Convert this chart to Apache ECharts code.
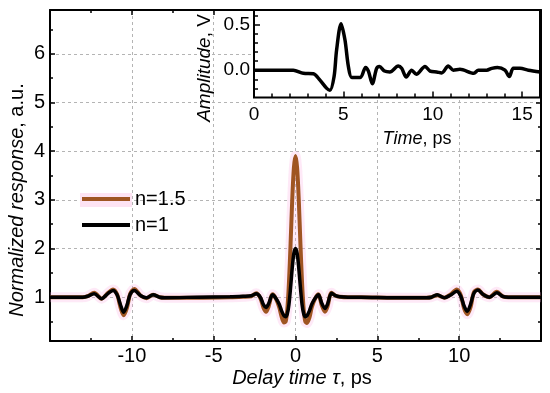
<!DOCTYPE html>
<html><head><meta charset="utf-8">
<script src="https://cdn.jsdelivr.net/npm/echarts@6/dist/echarts.min.js"></script>
<style>html,body{margin:0;padding:0;background:#fff}#c{width:550px;height:393px}</style>
</head><body><div id="c"></div><script>
// ---- data ----
const delay = [-15,-13.0,-12.7,-12.3,-11.85,-11.45,-11.15,-10.9,-10.7,-10.5,-10.3,-10.1,-9.85,-9.45,-9.1,-8.7,-8.3,-8.0,-6,-4,-3.2,-2.7,-2.4,-2.15,-1.95,-1.8,-1.65,-1.4,-1.2,-1.0,-0.85,-0.7,-0.6,-0.5,-0.4,-0.3,-0.2,-0.1,0,0.1,0.2,0.3,0.4,0.5,0.6,0.7,0.85,1.0,1.2,1.4,1.6,1.8,1.95,2.2,2.45,2.7,3.2,4,6,8.0,8.3,8.65,9.1,9.45,9.85,10.1,10.3,10.5,10.7,10.9,11.15,11.45,11.85,12.3,12.7,13.0,15];
const n15 = [1.0,1.0,1.02,1.09,0.97,1.09,1.16,1.06,0.8,0.63,0.78,1.07,1.17,1.03,0.98,1.05,1.0,0.99,0.99,1.0,1.01,1.02,1.08,0.98,0.78,0.7,0.8,1.06,0.97,0.8,0.6,0.48,0.5,0.75,1.3,2.1,3.0,3.65,3.9,3.65,3.0,2.1,1.3,0.75,0.5,0.47,0.58,0.8,0.97,1.06,0.84,0.7,0.8,1.09,1.03,1.01,1.0,1.0,0.99,0.99,1.0,1.04,0.99,1.05,1.16,1.04,0.77,0.65,0.8,1.1,1.16,1.06,1.0,1.11,1.01,1.0,1.0];
const n1 = [1.0,1.0,1.02,1.07,0.97,1.08,1.14,1.05,0.85,0.69,0.83,1.06,1.14,1.03,0.99,1.05,1.0,0.99,1.0,1.01,1.02,1.03,1.07,1.0,0.84,0.79,0.86,1.05,0.98,0.86,0.72,0.62,0.6,0.66,0.85,1.2,1.6,1.9,2.0,1.9,1.6,1.2,0.85,0.66,0.6,0.62,0.72,0.86,0.98,1.05,0.88,0.77,0.85,1.08,1.03,1.01,1.0,1.0,0.99,0.99,1.0,1.05,0.99,1.04,1.12,1.02,0.82,0.71,0.86,1.08,1.15,1.06,1.0,1.09,1.01,1.0,1.0];
const timePs = [0,1,2.2,2.76,3.32,3.69,4.07,4.25,4.48,4.62,4.87,5.09,5.28,5.47,5.95,6.24,6.4,6.62,6.86,7.02,7.3,7.6,8.07,8.26,8.52,8.82,9.08,9.57,9.85,10.22,10.5,10.87,11.15,11.52,12.3,12.55,13.02,13.3,13.62,14.04,14.28,14.51,14.88,15.35,16];
const amplitude = [0,0,0,-0.035,-0.04,-0.11,-0.2,-0.22,-0.07,0.22,0.51,0.33,0.04,-0.08,-0.08,0.03,-0.01,-0.15,0.02,0.04,-0.01,-0.02,0.045,0.02,-0.075,0.0,-0.045,0.04,-0.01,-0.02,-0.03,0.045,0.0,0.01,-0.035,0.0,0.0,0.02,0.03,0.0,-0.07,0.02,0.02,0.0,-0.02];
const mainYMinorTicks = [0.5,1.5,2.5,3.5,4.5,5.5,6.5];
const insetXMajor = [0,5,10,15];
const insetXMinor = [1,2,3,4,6,7,8,9,11,12,13,14];
const insetYMajor = [0,0.5];
const insetYMinor = [-0.2,-0.1,0.1,0.2,0.3,0.4,0.6];

const FONT = '"Liberation Sans", Arial, Helvetica, sans-serif';
const zip = (a, b) => a.map((v, i) => [v, b[i]]);
const black = '#000';
const grid = {type: [3, 3], color: '#b4b4b4', width: 1};
const noLine = {show: false, onZero: false};
const mainLine = {show: true, onZero: false, lineStyle: {color: black, width: 2}};

const chart = echarts.init(document.getElementById('c'), null, {renderer: 'canvas'});
chart.setOption({
  animation: false,
  backgroundColor: '#fff',
  textStyle: {fontFamily: FONT},
  grid: [
    {left: 50, top: 10, right: 9, bottom: 52},
    {left: 254, top: 10, right: 10, bottom: 295.5, show: true, backgroundColor: '#fff', borderColor: '#000', borderWidth: 2, z: 3}
  ],
  legend: {
    data: ['n=1.5', 'n=1'], orient: 'vertical', left: 82, top: 189, padding: 0, itemWidth: 48, itemHeight: 4, itemGap: 6,
    icon: 'rect', textStyle: {fontSize: 20, color: black, fontFamily: FONT}, z: 6
  },
  xAxis: [
    {gridIndex: 0, type: 'value', position: 'bottom', min: -15, max: 15, interval: 5,
     axisLine: mainLine,
     axisTick: {inside: true, length: 5, lineStyle: {color: black, width: 1.5}},
     minorTick: {show: true, splitNumber: 2, length: 3, lineStyle: {color: black, width: 1.5}},
     axisLabel: {fontSize: 20, color: black, margin: 5, showMinLabel: false, showMaxLabel: false, fontFamily: FONT},
     splitLine: {show: true, lineStyle: grid}},
    {gridIndex: 0, type: 'value', position: 'top', min: -15, max: 15, interval: 5,
     axisLine: mainLine,
     axisTick: {inside: true, length: 5, lineStyle: {color: black, width: 1.5}},
     minorTick: {show: true, splitNumber: 2, length: 3, lineStyle: {color: black, width: 1.5}},
     axisLabel: {show: false}, splitLine: {show: false}},
    {gridIndex: 1, type: 'value', position: 'bottom', min: 0, max: 16, z: 4,
     axisLine: noLine,
     axisTick: {inside: true, length: 6, customValues: insetXMajor, lineStyle: {color: black, width: 1.5}},
     axisLabel: {customValues: insetXMajor, fontSize: 19, color: black, margin: 8, fontFamily: FONT},
     splitLine: {show: false}},
    {gridIndex: 1, type: 'value', position: 'bottom', min: 0, max: 16, z: 4,
     axisLine: noLine,
     axisTick: {inside: true, length: 4, customValues: insetXMinor, lineStyle: {color: black, width: 1.5}},
     axisLabel: {show: false}, splitLine: {show: false}}
  ],
  yAxis: [
    {gridIndex: 0, type: 'value', position: 'left', min: 0.1, max: 6.9, splitNumber: 6,
     axisLine: mainLine,
     axisTick: {show: true, inside: true, length: 5, lineStyle: {color: black, width: 1.5}},
     axisLabel: {fontSize: 20, color: black, margin: 5, showMinLabel: false, showMaxLabel: false, fontFamily: FONT},
     splitLine: {show: true, lineStyle: grid}},
    {gridIndex: 0, type: 'value', position: 'left', min: 0.1, max: 6.9,
     axisLine: noLine,
     axisTick: {show: true, inside: true, length: 3, customValues: mainYMinorTicks, lineStyle: {color: black, width: 1.5}},
     axisLabel: {show: false}, splitLine: {show: false}},
    {gridIndex: 0, type: 'value', position: 'right', min: 0.1, max: 6.9, splitNumber: 6,
     axisLine: mainLine,
     axisTick: {show: true, inside: true, length: 5, lineStyle: {color: black, width: 1.5}},
     axisLabel: {show: false}, splitLine: {show: false}},
    {gridIndex: 0, type: 'value', position: 'right', min: 0.1, max: 6.9,
     axisLine: noLine,
     axisTick: {show: true, inside: true, length: 3, customValues: mainYMinorTicks, lineStyle: {color: black, width: 1.5}},
     axisLabel: {show: false}, splitLine: {show: false}},
    {gridIndex: 1, type: 'value', position: 'left', min: -0.3, max: 0.66, z: 4,
     axisLine: noLine,
     axisTick: {show: true, inside: true, length: 6, customValues: insetYMajor, lineStyle: {color: black, width: 1.5}},
     axisLabel: {customValues: insetYMajor, fontSize: 19, color: black, margin: 4, fontFamily: FONT, formatter: v => Number(v).toFixed(1)},
     splitLine: {show: false}},
    {gridIndex: 1, type: 'value', position: 'left', min: -0.3, max: 0.66, z: 4,
     axisLine: noLine,
     axisTick: {show: true, inside: true, length: 4, customValues: insetYMinor, lineStyle: {color: black, width: 1.5}},
     axisLabel: {show: false}, splitLine: {show: false}}
  ],
  series: [
    {name: 'halo', type: 'line', xAxisIndex: 0, yAxisIndex: 0, data: zip(delay, n15), showSymbol: false, smooth: 0.3, silent: true,
     lineStyle: {color: 'rgba(250,175,228,0.28)', width: 10}, z: 1},
    {name: 'n=1.5', type: 'line', xAxisIndex: 0, yAxisIndex: 0, data: zip(delay, n15), showSymbol: false, smooth: 0.3,
     color: '#9f5522', lineStyle: {color: '#9f5522', width: 4}, z: 2},
    {name: 'n=1', type: 'line', xAxisIndex: 0, yAxisIndex: 0, data: zip(delay, n1), showSymbol: false, smooth: 0.3,
     color: '#000', lineStyle: {color: '#000', width: 3.5}, z: 2},
    {name: 'inset', type: 'line', xAxisIndex: 2, yAxisIndex: 4, data: zip(timePs, amplitude), showSymbol: false, smooth: 0.3,
     color: '#000', lineStyle: {color: '#000', width: 3.5}, z: 5}
  ],
  graphic: [
    {type: 'rect', left: 80, top: 193, shape: {width: 52, height: 14}, style: {fill: '#fde3f3'}, z: 1},
    {type: 'text', x: 302, y: 378, z: 6,
     style: {text: '{i|Delay time τ}, ps', font: '20px ' + FONT, fill: black, align: 'center', verticalAlign: 'middle', textAlign: 'center', textVerticalAlign: 'middle',
       rich: {i: {fontStyle: 'italic', fontSize: 20, fontFamily: FONT, fill: black}}}},
    {type: 'text', x: 17, y: 200, rotation: Math.PI / 2, z: 6,
     style: {text: '{i|Normalized response}, a.u.', font: '20px ' + FONT, fill: black, align: 'center', verticalAlign: 'middle', textAlign: 'center', textVerticalAlign: 'middle',
       rich: {i: {fontStyle: 'italic', fontSize: 20, fontFamily: FONT, fill: black}}}},
    {type: 'text', x: 205, y: 68, rotation: Math.PI / 2, z: 6,
     style: {text: '{i|Amplitude}, V', font: '19px ' + FONT, fill: black, align: 'center', verticalAlign: 'middle', textAlign: 'center', textVerticalAlign: 'middle',
       rich: {i: {fontStyle: 'italic', fontSize: 19, fontFamily: FONT, fill: black}}}},
    {type: 'text', x: 417, y: 139, z: 6,
     style: {text: '{i|Time}, ps', font: '18px ' + FONT, fill: black, align: 'center', verticalAlign: 'middle', textAlign: 'center', textVerticalAlign: 'middle',
       rich: {i: {fontStyle: 'italic', fontSize: 18, fontFamily: FONT, fill: black}}}}
  ]
});
</script></body></html>
